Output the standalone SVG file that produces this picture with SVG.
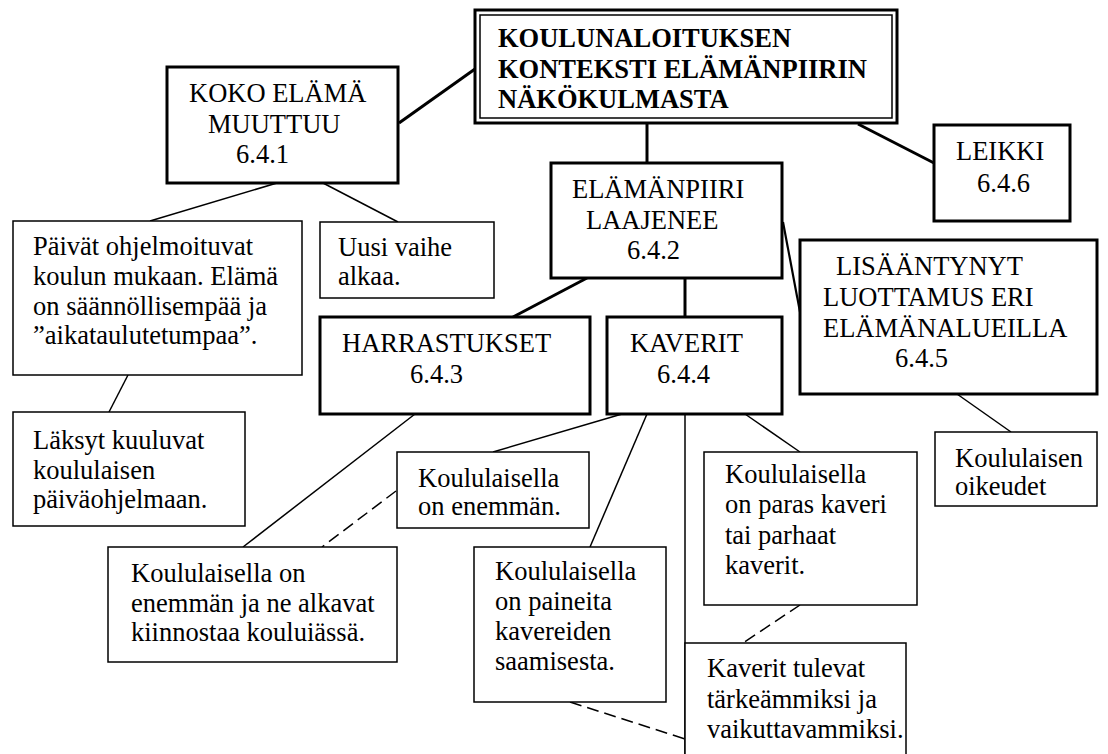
<svg xmlns="http://www.w3.org/2000/svg" width="1108" height="754" viewBox="0 0 1108 754" font-family="'Liberation Serif', 'Times New Roman', 'DejaVu Serif', serif">
  <style>
    text { font-family: 'Liberation Serif', 'Times New Roman', 'DejaVu Serif', serif; font-size: 26.5px; fill: #000; }
    .title { font-weight: bold; }
    .thick { fill: #fff; stroke: #000; stroke-width: 3; }
    .thin { fill: #fff; stroke: #000; stroke-width: 1.5; }
    .c-thick { stroke: #000; stroke-width: 3; fill: none; }
    .c-mid { stroke: #000; stroke-width: 2.2; fill: none; }
    .c-thin { stroke: #000; stroke-width: 1.5; fill: none; }
    .c-dash { stroke: #000; stroke-width: 1.5; fill: none; stroke-dasharray: 12 6; }
  </style>
  <rect width="1108" height="754" fill="#fff"/>

  <!-- connectors -->
  <g id="connectors">
    <line class="c-thick" x1="399" y1="123" x2="475" y2="69"/>
    <line class="c-thick" x1="647" y1="123" x2="647" y2="163"/>
    <line class="c-thick" x1="858" y1="124" x2="934" y2="163"/>
    <line class="c-thick" x1="587" y1="278" x2="513" y2="317"/>
    <line class="c-thick" x1="685" y1="278" x2="685" y2="317"/>
    <line class="c-mid" x1="783" y1="222" x2="800" y2="312"/>
    <line class="c-thin" x1="277" y1="183" x2="150" y2="221"/>
    <line class="c-thin" x1="323" y1="183" x2="398" y2="222"/>
    <line class="c-thin" x1="128" y1="375" x2="109" y2="412"/>
    <line class="c-thin" x1="957" y1="394" x2="1011" y2="432"/>
    <line class="c-thin" x1="415" y1="414" x2="243" y2="547"/>
    <line class="c-thin" x1="622" y1="414" x2="493" y2="452"/>
    <line class="c-thin" x1="647" y1="414" x2="590" y2="547"/>
    <line class="c-thin" x1="685" y1="414" x2="685" y2="754"/>
    <line class="c-thin" x1="745" y1="414" x2="800" y2="452"/>
    <line class="c-dash" x1="396" y1="491" x2="322" y2="547"/>
    <line class="c-dash" x1="570" y1="702" x2="685" y2="739"/>
    <line class="c-dash" x1="800" y1="605" x2="743" y2="643"/>
  </g>

  <!-- main heading -->
  <g id="title">
    <rect x="475" y="10" width="422" height="113" fill="#fff" stroke="#000" stroke-width="3"/>
    <rect x="480" y="15" width="412" height="103" fill="none" stroke="#000" stroke-width="1.5"/>
    <text class="title" x="498" y="47">KOULUNALOITUKSEN</text>
    <text class="title" x="498" y="77.5">KONTEKSTI ELÄMÄNPIIRIN</text>
    <text class="title" x="498" y="108">NÄKÖKULMASTA</text>
  </g>

  <g id="n641">
    <rect class="thick" x="167" y="67" width="231" height="116"/>
    <text x="189" y="102">KOKO ELÄMÄ</text>
    <text x="208" y="133">MUUTTUU</text>
    <text x="236" y="163">6.4.1</text>
  </g>

  <g id="n641a">
    <rect class="thin" x="13" y="221" width="289" height="154"/>
    <text x="33" y="255">Päivät ohjelmoituvat</text>
    <text x="33" y="285">koulun mukaan. Elämä</text>
    <text x="33" y="315">on säännöllisempää ja</text>
    <text x="33" y="344">”aikataulutetumpaa”.</text>
  </g>

  <g id="n641b">
    <rect class="thin" x="320" y="222" width="174" height="76"/>
    <text x="338" y="256">Uusi vaihe</text>
    <text x="338" y="285">alkaa.</text>
  </g>

  <g id="n641c">
    <rect class="thin" x="13" y="412" width="232" height="114"/>
    <text x="33" y="449">Läksyt kuuluvat</text>
    <text x="33" y="479">koululaisen</text>
    <text x="33" y="508">päiväohjelmaan.</text>
  </g>

  <g id="n642">
    <rect class="thick" x="551" y="163" width="231" height="115"/>
    <text x="572" y="198">ELÄMÄNPIIRI</text>
    <text x="586" y="229">LAAJENEE</text>
    <text x="627" y="259">6.4.2</text>
  </g>

  <g id="n646">
    <rect class="thick" x="934" y="125" width="136" height="96"/>
    <text x="956" y="160">LEIKKI</text>
    <text x="977" y="192">6.4.6</text>
  </g>

  <g id="n645">
    <rect class="thick" x="800" y="240" width="297" height="154"/>
    <text x="836" y="275">LISÄÄNTYNYT</text>
    <text x="823" y="306">LUOTTAMUS ERI</text>
    <text x="823" y="337">ELÄMÄNALUEILLA</text>
    <text x="895" y="367">6.4.5</text>
  </g>

  <g id="n645a">
    <rect class="thin" x="935" y="432" width="162" height="74"/>
    <text x="955" y="467">Koululaisen</text>
    <text x="955" y="495">oikeudet</text>
  </g>

  <g id="n643">
    <rect class="thick" x="320" y="317" width="270" height="97"/>
    <text x="342" y="352">HARRASTUKSET</text>
    <text x="410" y="383">6.4.3</text>
  </g>

  <g id="n644">
    <rect class="thick" x="607" y="317" width="175" height="97"/>
    <text x="630" y="352">KAVERIT</text>
    <text x="657" y="383">6.4.4</text>
  </g>

  <g id="n643a">
    <rect class="thin" x="108" y="547" width="289" height="115"/>
    <text x="131" y="582">Koululaisella on</text>
    <text x="131" y="612">enemmän ja ne alkavat</text>
    <text x="131" y="641">kiinnostaa kouluiässä.</text>
  </g>

  <g id="n644a">
    <rect class="thin" x="397" y="452" width="192" height="76"/>
    <text x="418" y="487">Koululaisella</text>
    <text x="418" y="515">on enemmän.</text>
  </g>

  <g id="n644b">
    <rect class="thin" x="474" y="547" width="192" height="155"/>
    <text x="495" y="580">Koululaisella</text>
    <text x="495" y="610">on paineita</text>
    <text x="495" y="640">kavereiden</text>
    <text x="495" y="670">saamisesta.</text>
  </g>

  <g id="n644c">
    <rect class="thin" x="704" y="452" width="213" height="153"/>
    <text x="725" y="483">Koululaisella</text>
    <text x="725" y="513">on paras kaveri</text>
    <text x="725" y="544">tai parhaat</text>
    <text x="725" y="574">kaverit.</text>
  </g>

  <g id="n644d">
    <rect class="thin" x="685" y="643" width="221" height="125"/>
    <text x="707" y="677">Kaverit tulevat</text>
    <text x="707" y="708">tärkeämmiksi ja</text>
    <text x="707" y="738">vaikuttavammiksi.</text>
  </g>
</svg>
